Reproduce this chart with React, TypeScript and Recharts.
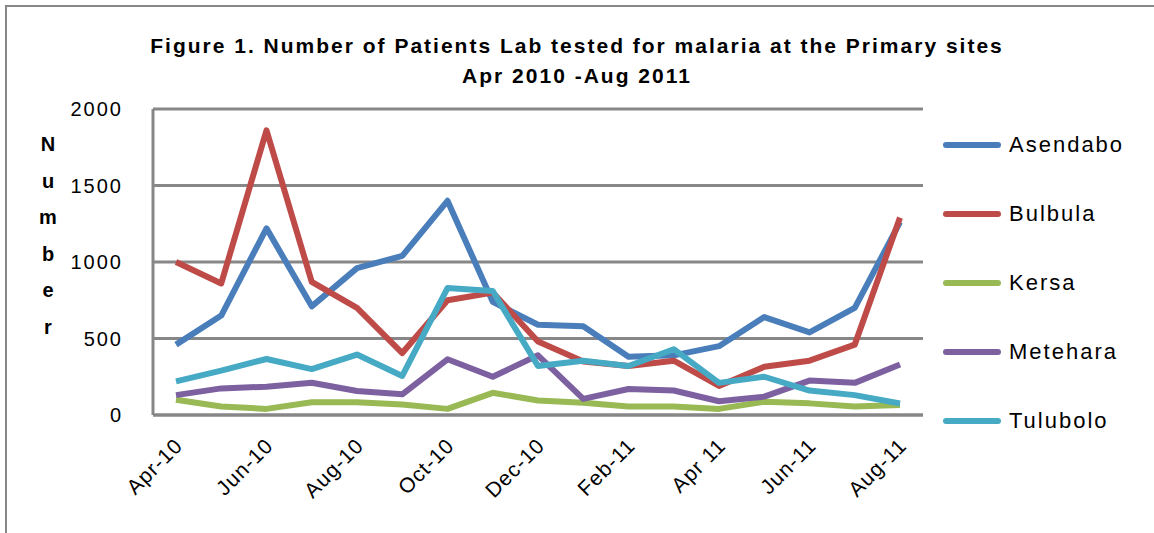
import React from "react";
import { LineChart, Line, XAxis, YAxis, CartesianGrid } from "recharts";

// months, Apr 2010 - Aug 2011
const months = [
  "Apr-10", "May-10", "Jun-10", "Jul-10", "Aug-10", "Sep-10", "Oct-10", "Nov-10", "Dec-10",
  "Jan-11", "Feb-11", "Mar-11", "Apr 11", "May-11", "Jun-11", "Jul-11", "Aug-11",
];

const asendabo = [460, 650, 1220, 710, 960, 1040, 1400, 740, 590, 580, 380, 390, 450, 640, 540, 700, 1260];
const bulbula = [1000, 860, 1860, 870, 700, 405, 750, 800, 480, 350, 320, 355, 190, 315, 355, 460, 1290];
const kersa = [100, 55, 40, 83, 83, 68, 40, 145, 95, 80, 55, 55, 40, 87, 76, 55, 65];
const metehara = [130, 174, 185, 211, 157, 135, 364, 250, 390, 105, 170, 160, 90, 120, 225, 210, 330];
const tulubolo = [220, 290, 366, 300, 395, 255, 830, 810, 320, 355, 320, 430, 210, 250, 160, 130, 75];

const yTicks = [0, 500, 1000, 1500, 2000];

const series = [
  { key: "Asendabo", values: asendabo, color: "#4A7EBB" },
  { key: "Bulbula", values: bulbula, color: "#BE4B48" },
  { key: "Kersa", values: kersa, color: "#98B954" },
  { key: "Metehara", values: metehara, color: "#7D60A0" },
  { key: "Tulubolo", values: tulubolo, color: "#46AAC5" },
];

const data = months.map((m, i) => {
  const row: any = { month: m };
  series.forEach((s) => (row[s.key] = s.values[i]));
  return row;
});

const grey = "#878787";
const font = "'Liberation Sans', Arial, sans-serif";

const XTick = (props: any) => {
  const { x, y, payload } = props;
  const tx = x + 8;
  const ty = y + 24;
  return (
    <text
      x={tx}
      y={ty}
      textAnchor="end"
      transform={`rotate(-45 ${tx} ${ty})`}
      fontSize={21}
      letterSpacing={1}
      fontFamily={font}
      fill="#000"
    >
      {payload.value}
    </text>
  );
};

const LegendBox = () => (
  <div style={{ position: "absolute", left: 943, top: 110, width: 210, fontFamily: font }}>
    {series.map((s) => (
      <div key={s.key} style={{ display: "flex", alignItems: "center", height: 69 }}>
        <div style={{ width: 58, height: 6, borderRadius: 3, background: s.color, marginRight: 8 }} />
        <span style={{ fontSize: 22, letterSpacing: 2, color: "#000" }}>{s.key}</span>
      </div>
    ))}
  </div>
);

export default function App() {
  return (
    <div style={{ position: "fixed", left: 0, top: 0, width: 1154, height: 533, background: "#fff" }}>
      <div style={{ position: "absolute", left: 5, top: 5, right: 0, bottom: 0, borderLeft: `2px solid ${grey}`, borderTop: `2px solid ${grey}` }} />
      <div
        style={{
          position: "absolute", left: 0, width: 1154, top: 31, textAlign: "center",
          fontFamily: font, fontWeight: "bold", fontSize: 21, lineHeight: "30px", letterSpacing: 2, color: "#000",
        }}
      >
        <div>Figure 1. Number of Patients Lab tested for malaria at the Primary sites</div>
        <div>Apr 2010 -Aug 2011</div>
      </div>
      <div
        style={{
          position: "absolute", left: 33, width: 30, top: 126, textAlign: "center",
          fontFamily: font, fontWeight: "bold", fontSize: 20, lineHeight: "36.5px", color: "#000",
        }}
      >
        {"Number".split("").map((c, i) => (
          <div key={i}>{c}</div>
        ))}
      </div>
      <LineChart
        width={1154}
        height={533}
        data={data}
        margin={{ top: 109, right: 231, left: 93, bottom: 38 }}
        style={{ position: "absolute", left: 0, top: 0 }}
      >
        <CartesianGrid vertical={false} stroke={grey} strokeWidth={3} />
        <XAxis
          dataKey="month"
          interval={1}
          padding={{ left: 23, right: 23 }}
          tickLine={false}
          axisLine={{ stroke: grey, strokeWidth: 3 }}
          tick={<XTick />}
          height={80}
        />
        <YAxis
          domain={[0, 2000]}
          ticks={yTicks}
          width={60}
          tickLine={false}
          axisLine={{ stroke: grey, strokeWidth: 3 }}
          tick={{ fontSize: 20, fill: "#000", fontFamily: font, letterSpacing: 2 }}
          tickMargin={24}
        />
        {series.map((s) => (
          <Line
            key={s.key}
            dataKey={s.key}
            stroke={s.color}
            strokeWidth={6}
            dot={false}
            strokeLinejoin="round"
            isAnimationActive={false}
          />
        ))}
      </LineChart>
      <LegendBox />
    </div>
  );
}
